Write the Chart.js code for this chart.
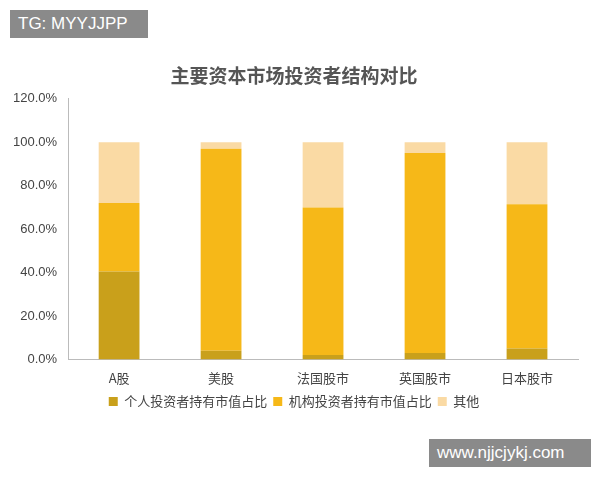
<!DOCTYPE html>
<html><head><meta charset="utf-8">
<script src="https://cdn.jsdelivr.net/npm/chart.js@4/dist/chart.umd.min.js"></script>
<style>
body{margin:0;background:#fff;font-family:"Noto Sans CJK SC",sans-serif;}
#wrap{position:relative;width:600px;height:480px;}
#c{position:absolute;left:0;top:0;}
.wm{position:absolute;background:#8a8a8a;color:#fff;font-family:"Liberation Sans",Arial,sans-serif;font-size:17px;padding:4px 8px;}
</style></head><body>
<div id="wrap"><canvas id="c" width="600" height="480"></canvas>
<div class="wm" style="left:10px;top:10px;width:122px;">TG: MYYJJPP</div>
<div class="wm" style="left:429px;top:439px;width:146px;">www.njjcjykj.com</div>
</div>
<script>
const categories=["A股","美股","法国股市","英国股市","日本股市"];
const individual=[40.5,4,2,3,5];
const institutional=[31.5,93,68,92,66.5];
const others=[28,3,30,5,28.5];
const yTicks=[0,20,40,60,80,100,120];
new Chart(document.getElementById('c'),{
type:'bar',
data:{labels:categories,datasets:[
{label:'个人投资者持有市值占比',data:individual,backgroundColor:'#C9A01B'},
{label:'机构投资者持有市值占比',data:institutional,backgroundColor:'#F6B818'},
{label:'其他',data:others,backgroundColor:'#FADAA4'}]},
options:{responsive:false,animation:false,
layout:{padding:{left:10,right:22,top:64,bottom:62}},
datasets:{bar:{categoryPercentage:0.8,barPercentage:0.5}},
plugins:{title:{display:true,text:'主要资本市场投资者结构对比',font:{size:19,weight:'bold',family:'Noto Sans CJK SC'},color:'#555',padding:{bottom:12}},
legend:{position:'bottom',labels:{boxWidth:9,boxHeight:9,padding:6,font:{size:13,family:'Noto Sans CJK SC'},color:'#444'}},tooltip:{enabled:false}},
scales:{x:{stacked:true,grid:{display:false},border:{color:'#bbb'},ticks:{color:'#444',font:{size:13,family:'Noto Sans CJK SC'}}},
y:{stacked:true,min:0,max:120,afterBuildTicks:a=>{a.ticks=yTicks.map(v=>({value:v}));},grid:{display:false},border:{color:'#bbb'},
ticks:{color:'#444',font:{size:13,family:'Liberation Sans'},callback:v=>v.toFixed(1)+'%'}}}}
});
</script></body></html>
